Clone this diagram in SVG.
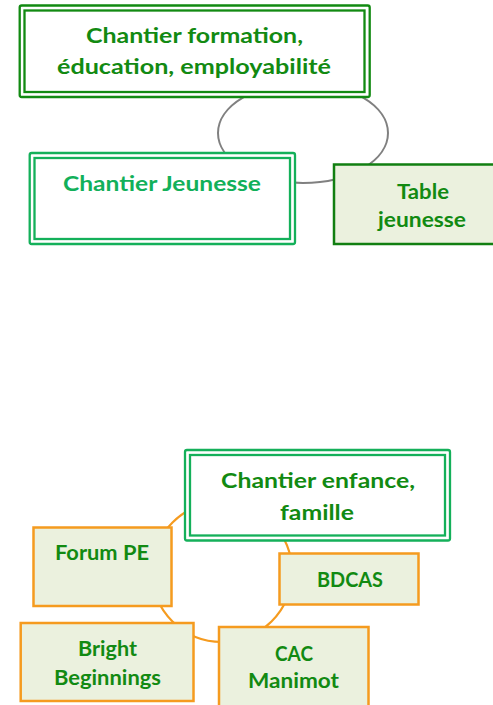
<svg xmlns="http://www.w3.org/2000/svg" width="493" height="705" viewBox="0 0 493 705">
<style>
.t{font-family:Lato,"Open Sans","Liberation Sans",sans-serif;font-weight:bold;font-size:21px;fill:#128a12;text-anchor:middle}
.tl{fill:#12b05a}
.dg{fill:#fff;stroke:#128a12;stroke-width:2.3}
.lg{fill:#fff;stroke:#14b05a;stroke-width:2.3}
.tb{fill:#ebf1de;stroke:#117f11;stroke-width:2.5}
.ob{fill:#ebf1de;stroke:#f59b1f;stroke-width:2.5}
</style>
<g id="connectors" fill="none">
<ellipse cx="303" cy="133" rx="85" ry="50" stroke="#808080" stroke-width="2"/>
<circle cx="222" cy="572" r="70" stroke="#f59b1f" stroke-width="2.2"/>
</g>
<g id="n-formation">
<rect class="dg" x="19.7" y="5.5" width="350" height="91.5" rx="2"/>
<rect class="dg" x="24.5" y="10.5" width="340" height="81.5"/>
<text class="t" x="194.5" y="43" textLength="217" lengthAdjust="spacingAndGlyphs">Chantier formation,</text>
<text class="t" x="194" y="74" textLength="274" lengthAdjust="spacingAndGlyphs">éducation, employabilité</text>
</g>
<g id="n-jeunesse">
<rect class="lg" x="29.7" y="153" width="265.3" height="91" rx="2"/>
<rect class="lg" x="34.5" y="158" width="255.5" height="81"/>
<text class="t tl" x="162" y="191" textLength="198" lengthAdjust="spacingAndGlyphs">Chantier Jeunesse</text>
</g>
<g id="n-table">
<rect class="tb" x="334" y="164.5" width="165" height="79.5"/>
<text class="t" x="423" y="199" textLength="52" lengthAdjust="spacingAndGlyphs">Table</text>
<text class="t" x="422" y="227" textLength="88" lengthAdjust="spacingAndGlyphs">jeunesse</text>
</g>
<g id="n-enfance">
<rect class="lg" x="185" y="450" width="265" height="90.5" rx="2"/>
<rect class="lg" x="190" y="455" width="255" height="80.5"/>
<text class="t" x="318" y="488" textLength="194" lengthAdjust="spacingAndGlyphs">Chantier enfance,</text>
<text class="t" x="317" y="520" textLength="74" lengthAdjust="spacingAndGlyphs">famille</text>
</g>
<g id="n-forum">
<rect class="ob" x="33.5" y="527.5" width="138" height="78.5"/>
<text class="t" x="102" y="560" textLength="94" lengthAdjust="spacingAndGlyphs">Forum PE</text>
</g>
<g id="n-bdcas">
<rect class="ob" x="279.5" y="553.5" width="139" height="51"/>
<text class="t" x="350" y="587" textLength="66" lengthAdjust="spacingAndGlyphs">BDCAS</text>
</g>
<g id="n-bright">
<rect class="ob" x="20.7" y="623" width="172.8" height="78"/>
<text class="t" x="107.5" y="656" textLength="59" lengthAdjust="spacingAndGlyphs">Bright</text>
<text class="t" x="107.5" y="685" textLength="107" lengthAdjust="spacingAndGlyphs">Beginnings</text>
</g>
<g id="n-cac">
<rect class="ob" x="219" y="627" width="149.5" height="85"/>
<text class="t" x="294" y="661" textLength="38" lengthAdjust="spacingAndGlyphs">CAC</text>
<text class="t" x="293.5" y="688" textLength="91" lengthAdjust="spacingAndGlyphs">Manimot</text>
</g>
</svg>
